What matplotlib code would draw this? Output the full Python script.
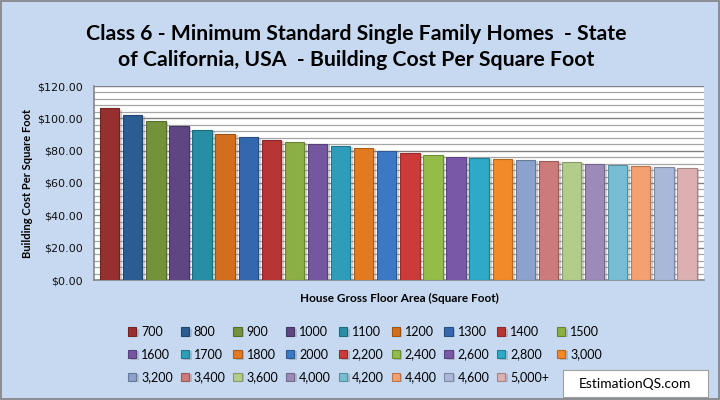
import matplotlib
matplotlib.use("Agg")
import matplotlib.pyplot as plt
import matplotlib.patheffects as pe
from matplotlib.patches import Rectangle
from matplotlib.ticker import MultipleLocator, FuncFormatter

# ---- data ----
categories = ["700", "800", "900", "1000", "1100", "1200", "1300", "1400", "1500",
              "1600", "1700", "1800", "2000", "2,200", "2,400", "2,600", "2,800", "3,000",
              "3,200", "3,400", "3,600", "4,000", "4,200", "4,400", "4,600", "5,000+"]
values = [106.3, 102.1, 98.4, 95.3, 92.8, 90.3, 88.5, 86.6, 85.4,
          84.1, 82.9, 81.6, 80.0, 78.6, 77.3, 76.1, 75.5, 74.8,
          74.2, 73.6, 73.0, 72.0, 71.1, 70.5, 69.9, 69.3]
colors = ["#96302E", "#2B5C92", "#74923A", "#5F4683", "#288EA5", "#D26E1E",
          "#3468AE", "#B73535", "#8BAE45", "#7556A0", "#2E9DBA", "#E47A20",
          "#3C78C4", "#CC3A3A", "#94BC48", "#7A58A8", "#2EA9C8", "#F28A28",
          "#8AA2CC", "#CC7A7A", "#B3CC8A", "#9C8AB8", "#77BED3", "#F4A070",
          "#A9B8D8", "#DCB0B0"]
title = "Class 6 - Minimum Standard Single Family Homes  - State\nof California, USA  - Building Cost Per Square Foot"
ylabel = "Building Cost Per Square Foot"
xlabel = "House Gross Floor Area (Square Foot)"
watermark = "EstimationQS.com"

BG = "#C6D9F1"

fig = plt.figure(figsize=(7.2, 4.0), dpi=100, facecolor=BG)
ax = fig.add_axes([94/720, 1-280/400, 610/720, 194/400])
ax.set_facecolor("white")

def darker(c, f=0.75):
    r, g, b = matplotlib.colors.to_rgb(c)
    return (r*f, g*f, b*f)

shadow = [pe.SimplePatchShadow(offset=(2, -1), shadow_rgbFace="#808080", alpha=0.35), pe.Normal()]
for i, (cat, v, c) in enumerate(zip(categories, values, colors)):
    ax.bar(i, v, width=0.84, color=c, edgecolor=darker(c), linewidth=0.8,
           label=cat, zorder=3, path_effects=shadow)

ax.set_xlim(-0.68, 25.74)
ax.set_ylim(0, 120)
ax.yaxis.set_major_locator(MultipleLocator(20))
ax.yaxis.set_minor_locator(MultipleLocator(4))
ax.yaxis.set_major_formatter(FuncFormatter(lambda v, p: f"${v:,.2f}"))
ax.grid(which="minor", axis="y", color="#A6A6A6", linewidth=0.9, zorder=0)
ax.grid(which="major", axis="y", color="#808080", linewidth=1.0, zorder=0)
ax.set_xticks([])
ax.tick_params(axis="y", which="both", length=0, pad=8, labelsize=8, labelcolor="#111111")
for lab in ax.get_yticklabels():
    lab.set_fontfamily("DejaVu Sans")
for s in ["top", "right"]:
    ax.spines[s].set_visible(False)
for s in ["left", "bottom"]:
    ax.spines[s].set_color("#868686")
    ax.spines[s].set_linewidth(1.2)

ax.set_ylabel(ylabel, fontsize=8, fontweight="bold", family="Lato")
ax.yaxis.set_label_coords(-61/610, 0.5)
ax.set_xlabel(xlabel, fontsize=8.5, fontweight="bold", family="Lato")
ax.xaxis.set_label_coords(0.5, -13/194)

fig.text(0.495, 1-47/400, title, ha="center", va="center", fontsize=15.3,
         fontweight="bold", family="Lato", linespacing=1.42)

# legend: reorder so matplotlib's column-major fill reads row-major
handles, labels = ax.get_legend_handles_labels()
ncol = 9
order = []
for j in range(ncol):
    for r in range(3):
        k = r*ncol + j
        if k < len(handles):
            order.append(k)
leg = fig.legend([handles[k] for k in order], [labels[k] for k in order],
                 ncol=ncol, loc="upper left", bbox_to_anchor=(128/720, 1-326/400),
                 frameon=False, prop={"family": "Lato", "size": 9},
                 handlelength=0.65, handleheight=0.65, handletextpad=0.4,
                 columnspacing=0.62, labelspacing=0.85, borderpad=0, borderaxespad=0)

# watermark box
fig.patches.append(Rectangle((563/720, 1-397/400), 145/720, 27/400, transform=fig.transFigure,
                             facecolor="white", edgecolor="#A0A0A0", linewidth=0.8))
fig.text(635/720, 1-384/400, watermark, ha="center", va="center",
         fontsize=10, family="Lato")
fig.patches.append(Rectangle((0.001, 0.002), 0.997, 0.996, transform=fig.transFigure,
                             fill=False, edgecolor="#808080", linewidth=1.2))

fig.savefig("out.png", dpi=100, facecolor=BG)
